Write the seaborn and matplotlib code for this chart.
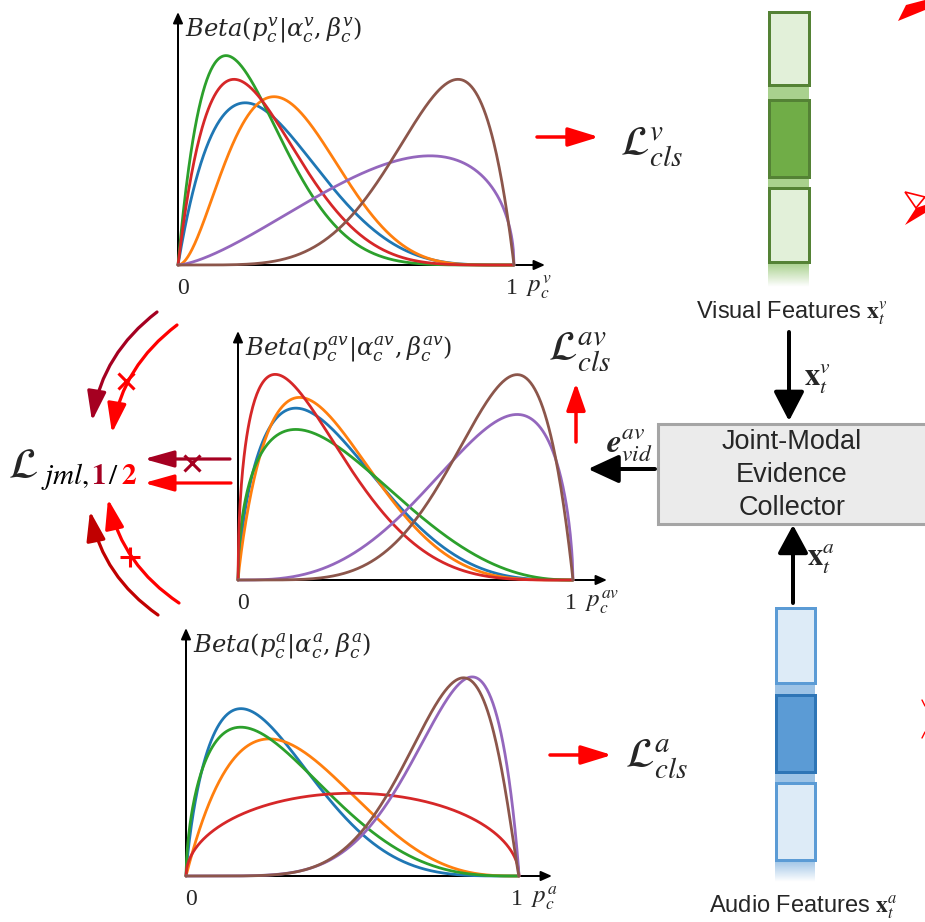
import math
import numpy as np
import pandas as pd
import seaborn as sns
import matplotlib.pyplot as plt
from matplotlib.patches import FancyArrowPatch, Rectangle, Polygon

sns.set_theme(style="white")
plt.rcParams['font.family'] = ['Liberation Sans', 'DejaVu Sans']
plt.rcParams['mathtext.fontset'] = 'stix'

# Beta(alpha, beta) parameters
# curve order: blue, orange, green, red, purple, brown
curve_names = ['c1', 'c2', 'c3', 'c4', 'c5', 'c6']
curve_colors = sns.color_palette('tab10', 6)

visual_alpha = [2.0, 3.0, 2.0, 2.0, 2.5, 6.0]
visual_beta = [5.0, 6.0, 7.0, 6.0, 1.5, 2.0]
joint_alpha = [1.7, 1.9, 1.5, 1.5, 4.0, 6.0]
joint_beta = [4.35, 5.0, 3.4, 5.0, 1.6, 2.0]
audio_alpha = [1.8, 2.0, 1.6, 1.5, 6.5, 7.0]
audio_beta = [5.05, 4.0, 4.05, 1.5, 1.9, 2.2]

p_grid = np.linspace(0, 1, 501)


def beta_table(alphas, betas):
    rows = []
    for name, a, b in zip(curve_names, alphas, betas):
        lb = math.lgamma(a) + math.lgamma(b) - math.lgamma(a + b)
        with np.errstate(divide='ignore'):
            dens = np.exp((a - 1) * np.log(p_grid) + (b - 1) * np.log1p(-p_grid) - lb)
        rows.append(pd.DataFrame({'p': p_grid, 'density': np.nan_to_num(dens), 'curve': name}))
    return pd.concat(rows, ignore_index=True)


W, H = 925, 922
PX = 72 / 100  # points per pixel

fig = plt.figure(figsize=(9.25, 9.22), dpi=100)
over = fig.add_axes([0, 0, 1, 1])
over.set_xlim(0, W)
over.set_ylim(H, 0)
over.axis('off')
renderer = fig.canvas.get_renderer()


def arrow(start, end, color, lw_px, head_len, head_half, rad=0.0, z=3):
    style = f'-|>,head_length={head_len * PX:.2f},head_width={head_half * PX:.2f}'
    over.add_patch(FancyArrowPatch(start, end, arrowstyle=style,
                                   connectionstyle=f'arc3,rad={rad}', color=color,
                                   lw=lw_px * PX, mutation_scale=1,
                                   shrinkA=0, shrinkB=0, zorder=z))


def panel(alphas, betas, x0, x1, xend, y0, ytop, px_unit, label, sup):
    ax = fig.add_axes([x0 / W, 1 - y0 / H, (x1 - x0) / W, (y0 - ytop) / H])
    ax.patch.set_alpha(0)
    sns.lineplot(data=beta_table(alphas, betas), x='p', y='density', hue='curve',
                 hue_order=curve_names, palette=curve_colors, legend=False,
                 lw=2.0, ax=ax, clip_on=False)
    ax.set_xlim(0, 1)
    ax.set_ylim(0, (y0 - ytop) / px_unit)
    ax.axis('off')
    # axis arrows
    arrow((x0, y0), (xend, y0), 'black', 2, 9, 4, z=1)
    arrow((x0, y0), (x0, ytop), 'black', 2, 9, 4, z=1)
    over.text(x0 + 7, ytop + 17, label, fontsize=17.5, math_fontfamily='dejavuserif',
              va='center', ha='left')
    over.text(x0 + 5, y0 + 23, '0', fontsize=17, family='Liberation Serif', ha='center', va='center')
    over.text(x1 - 2, y0 + 23, '1', fontsize=17, family='Liberation Serif', ha='center', va='center')
    over.text(x1 + 12, y0 + 22, r'$p_c^{%s}$' % sup, fontsize=18, ha='left', va='center')


panel(visual_alpha, visual_beta, 178, 514, 545, 265, 12, 66,
      r'$Beta(p_c^v|\alpha_c^v,\beta_c^v)$', 'v')
panel(joint_alpha, joint_beta, 238, 573, 607, 580, 331, 73,
      r'$Beta(p_c^{av}|\alpha_c^{av},\beta_c^{av})$', 'av')
panel(audio_alpha, audio_beta, 186, 519, 552, 876, 628, 65,
      r'$Beta(p_c^a|\alpha_c^a,\beta_c^a)$', 'a')

# loss outputs
arrow((537, 137), (599, 137), 'red', 3.5, 26, 8)
over.text(620, 147, r'$\mathcal{L}_{cls}^{v}$', fontsize=30, va='center', ha='left')
arrow((550, 755), (612, 755), 'red', 3.5, 26, 8)
over.text(625, 759, r'$\mathcal{L}_{cls}^{a}$', fontsize=30, va='center', ha='left')
arrow((576, 442), (576, 383), 'red', 3.5, 23, 8)
over.text(548, 352, r'$\mathcal{L}_{cls}^{av}$', fontsize=30, va='center', ha='left')

# joint-modal evidence collector
over.add_patch(Rectangle((658, 424), 270, 100, facecolor='#EBEBEB', edgecolor='#A5A5A5', lw=2.2, zorder=2))
for yy, txt in zip([442, 475, 508], ['Joint-Modal', 'Evidence', 'Collector']):
    over.text(792, yy, txt, fontsize=19.5, ha='center', va='center', zorder=4)
arrow((789, 332), (789, 421), 'black', 4, 25, 13)
over.text(804, 379, r'$\mathbf{x}_t^v$', fontsize=22, ha='left', va='center')
arrow((793, 603), (793, 525), 'black', 4, 24, 13)
over.text(807, 559, r'$\mathbf{x}_t^a$', fontsize=22, ha='left', va='center')
arrow((655, 469), (588, 469), 'black', 4, 26, 12)
over.text(606, 445, r'$\mathbfit{e}_{vid}^{av}$', fontsize=24, ha='left', va='center')


# feature columns
def column(x0, x1, cells, gaps, fade, light, dark, band, edge_light, edge_dark):
    for (ya, yb) in gaps:
        over.add_patch(Rectangle((x0 + 1, ya), x1 - x0 - 2, yb - ya, facecolor=band, lw=0, zorder=2))
    for i, (ya, yb) in enumerate(cells):
        fc, ec = (dark, edge_dark) if i == 1 else (light, edge_light)
        over.add_patch(Rectangle((x0 + 1.5, ya + 1.5), x1 - x0 - 3, yb - ya - 3,
                                 facecolor=fc, edgecolor=ec, lw=3 * PX, zorder=3))
    rgb = np.array(plt.matplotlib.colors.to_rgb(band))
    grad = np.zeros((30, 1, 4))
    grad[:, 0, :3] = rgb
    grad[:, 0, 3] = np.linspace(1, 0, 30)
    over.imshow(grad, extent=(x0 + 1, x1 - 1, fade[1], fade[0]), aspect='auto', zorder=2)


column(767, 810, [(11, 87), (99, 179), (187, 264)], [(86, 100), (178, 188)], (263, 287),
       '#E2F0D9', '#70AD47', '#A9D18E', '#548235', '#548235')
over.text(792, 313, r'Visual Features $\mathbf{x}_t^v$', fontsize=17, ha='center', va='center')
column(774, 816, [(606, 684), (693, 773), (781, 861)], [(683, 694), (772, 782)], (860, 882),
       '#DDEBF7', '#5B9BD5', '#9DC3E6', '#5B9BD5', '#2E75B6')
over.text(803, 907, r'Audio Features $\mathbf{x}_t^a$', fontsize=17, ha='center', va='center')

# joint loss and its incoming arrows
dark_red, red = '#A50021', '#FF0000'
arrow((157, 312), (92, 421), dark_red, 3.2, 25, 8, rad=0.2)
arrow((177, 325), (112, 433), red, 3.2, 25, 8, rad=0.2)
arrow((230, 459), (144, 459), dark_red, 3.2, 25, 7)
arrow((231, 483), (144, 483), red, 3.2, 25, 7)
arrow((179, 603), (108, 499), red, 3.2, 25, 8, rad=-0.2)
arrow((158, 615), (90, 511), '#C00000', 3.2, 25, 8, rad=-0.2)
over.plot([126], [381], marker='x', ms=11, mew=2.2, color=red, zorder=4)
over.plot([192], [463], marker='x', ms=11, mew=2.2, color=dark_red, zorder=4)
over.plot([130], [557], marker='+', ms=15, mew=2.2, color=red, zorder=4)

over.text(8, 478, r'$\mathcal{L}$', fontsize=31, va='baseline', ha='left')
x_pos = 41
for txt, col in [(r'$jml,$', 'black'), (r'$\mathbf{1}$', dark_red),
                 (r'$/$', 'black'), (r'$\mathbf{2}$', red)]:
    piece = over.text(x_pos, 484, txt, fontsize=21, color=col, va='baseline', ha='left')
    x_pos += piece.get_window_extent(renderer).width + 2

# fragments of arrows cut by the right edge
over.add_patch(Polygon([(898, 21), (906, 5), (925, 0), (925, 10)], closed=True, facecolor=red, lw=0))
over.add_patch(Polygon([(905, 192), (925, 197), (916, 208)], closed=True, facecolor='white', edgecolor=red, lw=1.2))
over.add_patch(Polygon([(916, 208), (925, 205), (925, 213), (905, 225)], closed=True, facecolor=red, lw=0))
over.plot([922, 925], [700, 706], color=red, lw=1)
over.plot([922, 925], [738, 732], color=red, lw=1)

over.set_xlim(0, W)
over.set_ylim(H, 0)
fig.savefig('out.png', dpi=100)
